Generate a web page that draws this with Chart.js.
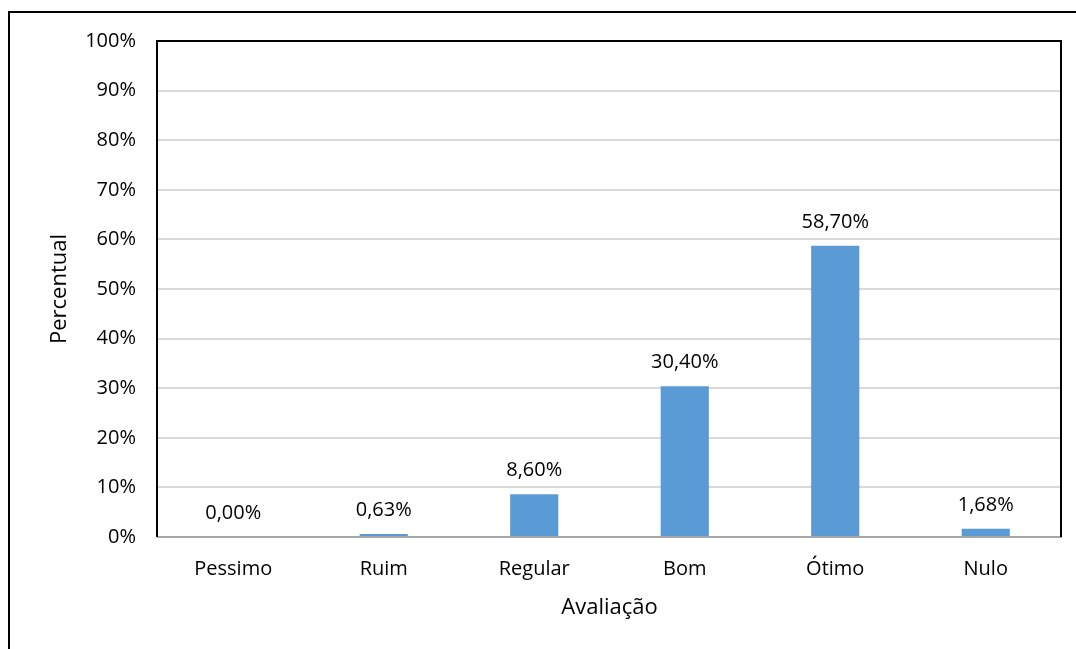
<!DOCTYPE html>
<html>
<head>
<meta charset="utf-8">
<script src="https://cdn.jsdelivr.net/npm/chart.js@4/dist/chart.umd.min.js"></script>
<style>
  html, body { margin: 0; padding: 0; background: #fff; }
  #wrap { position: relative; width: 1076px; height: 649px; }
</style>
</head>
<body>
<div id="wrap"><canvas id="grafico"></canvas></div>
<script>
const categorias = ["Pessimo", "Ruim", "Regular", "Bom", "Ótimo", "Nulo"];
const percentuais = [0.00, 0.63, 8.60, 30.40, 58.70, 1.68];
const rotulosEixo = ["0%", "10%", "20%", "30%", "40%", "50%", "60%", "70%", "80%", "90%", "100%"];

const fonte = "'Open Sans', 'Noto Sans', sans-serif";

const formatar = (v) => v.toFixed(2).replace(".", ",") + "%";

// moldura externa + borda da area do grafico + rotulos das barras
const molduras = {
  id: "molduras",
  beforeDraw(chart) {
    const ctx = chart.ctx;
    ctx.save();
    ctx.strokeStyle = "#000";
    ctx.lineWidth = 2;
    ctx.beginPath();
    ctx.moveTo(1080, 12);
    ctx.lineTo(9, 12);
    ctx.lineTo(9, 660);
    ctx.stroke();
    ctx.restore();
  },
  afterDraw(chart) {
    const ctx = chart.ctx;
    const a = chart.chartArea;
    ctx.save();
    ctx.strokeStyle = "#000";
    ctx.lineWidth = 2;
    ctx.beginPath();
    ctx.moveTo(a.left - 1, a.bottom);
    ctx.lineTo(a.left - 1, a.top);
    ctx.lineTo(a.right, a.top);
    ctx.lineTo(a.right, a.bottom);
    ctx.stroke();

    ctx.fillStyle = "#000";
    ctx.font = "20px " + fonte;
    ctx.textAlign = "center";
    ctx.textBaseline = "alphabetic";
    chart.getDatasetMeta(0).data.forEach((bar, i) => {
      ctx.fillText(formatar(percentuais[i]), bar.x, bar.y - 18);
    });
    ctx.restore();
  },
};

new Chart(document.getElementById("grafico"), {
  type: "bar",
  data: {
    labels: categorias,
    datasets: [
      {
        data: percentuais,
        backgroundColor: "#5B9BD5",
        barPercentage: 0.32,
        categoryPercentage: 1,
      },
    ],
  },
  options: {
    responsive: true,
    maintainAspectRatio: false,
    animation: false,
    layout: { padding: { top: 41, right: 15, left: 0, bottom: 0 } },
    plugins: {
      legend: { display: false },
      tooltip: { enabled: false },
    },
    scales: {
      x: {
        afterFit: (s) => { s.height = 112; },
        grid: { display: false, drawTicks: false },
        border: { display: true, color: "#a6a6a6", width: 2 },
        ticks: { color: "#000", padding: 20, font: { family: fonte, size: 20 } },
        title: {
          display: true,
          text: "Avaliação",
          color: "#000",
          font: { family: fonte, size: 22 },
          padding: { top: 0, bottom: 28 },
        },
      },
      y: {
        min: 0,
        max: 100,
        afterFit: (s) => { s.width = 158; },
        afterBuildTicks: (s) => {
          s.ticks = rotulosEixo.map((_, i) => ({ value: i * 10 }));
        },
        grid: { color: "#d9d9d9", lineWidth: 2, drawTicks: false },
        border: { display: false },
        ticks: {
          color: "#000",
          padding: 22,
          font: { family: fonte, size: 20 },
          callback: (v, i) => rotulosEixo[i],
        },
        title: {
          display: true,
          text: "Percentual",
          color: "#000",
          font: { family: fonte, size: 22 },
          padding: { top: 47, bottom: 0 },
        },
      },
    },
  },
  plugins: [molduras],
});
</script>
</body>
</html>
